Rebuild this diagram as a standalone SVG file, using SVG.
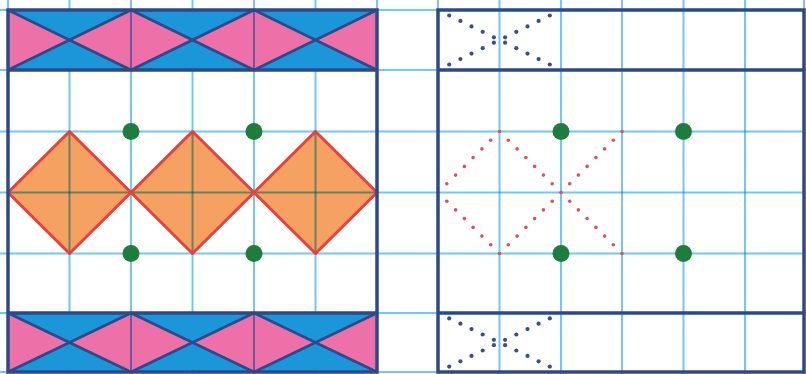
<svg xmlns="http://www.w3.org/2000/svg" width="806" height="374" viewBox="0 0 806 374">
<style>
.grid{stroke:#74c8ee;stroke-width:2;fill:none;mix-blend-mode:multiply}
.blue{fill:#1b97d9}
.pink{fill:#ee70a8}
.zig{fill:none;stroke:#2c4a8a;stroke-width:2.8;stroke-linejoin:round}
.frame{fill:none;stroke:#2c4a8a;stroke-width:3.5}
.dia{fill:#f4a162;stroke:none}
.diaS{fill:none;stroke:#e8403c;stroke-width:3;stroke-linejoin:round}
.green{fill:#1d7d3d}
.rd{fill:#e0505a}
.bd{fill:#3a4f86}
</style>
<defs>
<circle id="r" r="1.8" class="rd"/>
<circle id="b" r="2.1" class="bd"/>
</defs>
<rect width="806" height="374" fill="#fff"/>

<g id="left-panel-fills">
  <rect class="pink" x="8" y="10" width="369" height="60"/>
  <rect class="pink" x="8" y="313" width="369" height="59"/>
  <polygon class="dia" points="8,192.5 69.5,131.5 131,192.5 69.5,253.5"/>
  <polygon class="dia" points="131,192.5 192.5,131.5 254,192.5 192.5,253.5"/>
  <polygon class="dia" points="254,192.5 315.5,131.5 377,192.5 315.5,253.5"/>
</g>

<g id="grid">
  <path class="grid" d="M8,0V374M69.5,0V374M131,0V374M192.5,0V374M254,0V374M315.5,0V374M377,0V374M438,0V374M499.5,0V374M561,0V374M622,0V374M683.5,0V374M745,0V374M804,0V374"/>
  <path class="grid" d="M0,10H806M0,70H806M0,131.5H806M0,192.5H806M0,253.5H806M0,313H806M0,372H806"/>
</g>

<g id="blue-triangles">
  <polygon class="blue" points="8,10 131,10 69.5,40"/>
  <polygon class="blue" points="131,10 254,10 192.5,40"/>
  <polygon class="blue" points="254,10 377,10 315.5,40"/>
  <polygon class="blue" points="8,70 131,70 69.5,40"/>
  <polygon class="blue" points="131,70 254,70 192.5,40"/>
  <polygon class="blue" points="254,70 377,70 315.5,40"/>
  <polygon class="blue" points="8,313 131,313 69.5,342.5"/>
  <polygon class="blue" points="131,313 254,313 192.5,342.5"/>
  <polygon class="blue" points="254,313 377,313 315.5,342.5"/>
  <polygon class="blue" points="8,372 131,372 69.5,342.5"/>
  <polygon class="blue" points="131,372 254,372 192.5,342.5"/>
  <polygon class="blue" points="254,372 377,372 315.5,342.5"/>
</g>

<g id="left-panel-lines">
  <polyline class="zig" points="8,10 131,70 254,10 377,70"/>
  <polyline class="zig" points="8,70 131,10 254,70 377,10"/>
  <polyline class="zig" points="8,313 131,372 254,313 377,372"/>
  <polyline class="zig" points="8,372 131,313 254,372 377,313"/>
  <polygon class="diaS" points="8,192.5 69.5,131.5 131,192.5 69.5,253.5"/>
  <polygon class="diaS" points="131,192.5 192.5,131.5 254,192.5 192.5,253.5"/>
  <polygon class="diaS" points="254,192.5 315.5,131.5 377,192.5 315.5,253.5"/>
  <rect class="frame" x="8" y="10" width="369" height="362"/>
  <path class="frame" d="M8,70H377M8,313H377"/>
  <circle class="green" cx="131" cy="131.5" r="8.5"/>
  <circle class="green" cx="254" cy="131.5" r="8.5"/>
  <circle class="green" cx="131" cy="253.5" r="8.5"/>
  <circle class="green" cx="254" cy="253.5" r="8.5"/>
</g>

<g id="right-panel">
  <rect class="frame" x="438" y="10" width="366" height="362"/>
  <path class="frame" d="M438,70H804M438,313H804"/>
  <circle class="green" cx="561" cy="131.5" r="8.5"/>
  <circle class="green" cx="683.5" cy="131.5" r="8.5"/>
  <circle class="green" cx="561" cy="253.5" r="8.5"/>
  <circle class="green" cx="683.5" cy="253.5" r="8.5"/>
</g>

<g id="red-dots">
  <use href="#r" x="446.8" y="183.8"/><use href="#r" x="455.6" y="175.1"/><use href="#r" x="464.4" y="166.4"/><use href="#r" x="473.1" y="157.6"/><use href="#r" x="481.9" y="148.9"/><use href="#r" x="490.7" y="140.2"/>
  <use href="#r" x="446.8" y="201.2"/><use href="#r" x="455.6" y="209.9"/><use href="#r" x="464.4" y="218.6"/><use href="#r" x="473.1" y="227.4"/><use href="#r" x="481.9" y="236.1"/><use href="#r" x="490.7" y="244.8"/>
  <use href="#r" x="508.3" y="140.2"/><use href="#r" x="517.1" y="148.9"/><use href="#r" x="525.9" y="157.6"/><use href="#r" x="534.6" y="166.4"/><use href="#r" x="543.4" y="175.1"/><use href="#r" x="552.2" y="183.8"/>
  <use href="#r" x="508.3" y="244.8"/><use href="#r" x="517.1" y="236.1"/><use href="#r" x="525.9" y="227.4"/><use href="#r" x="534.6" y="218.6"/><use href="#r" x="543.4" y="209.9"/><use href="#r" x="552.2" y="201.2"/>
  <use href="#r" x="569.7" y="183.8"/><use href="#r" x="578.4" y="175.1"/><use href="#r" x="587.1" y="166.4"/><use href="#r" x="595.9" y="157.6"/><use href="#r" x="604.6" y="148.9"/><use href="#r" x="613.3" y="140.2"/>
  <use href="#r" x="569.7" y="201.2"/><use href="#r" x="578.4" y="209.9"/><use href="#r" x="587.1" y="218.6"/><use href="#r" x="595.9" y="227.4"/><use href="#r" x="604.6" y="236.1"/><use href="#r" x="613.3" y="244.8"/>
  <use href="#r" x="499.5" y="131.5"/><use href="#r" x="499.5" y="253.5"/><use href="#r" x="561" y="192.5"/><use href="#r" x="622" y="131.5"/><use href="#r" x="622" y="253.5"/>
</g>

<g id="blue-dots-top">
  <use href="#b" x="449.2" y="15.5"/><use href="#b" x="460.4" y="20.9"/><use href="#b" x="471.5" y="26.4"/><use href="#b" x="482.7" y="31.8"/><use href="#b" x="493.9" y="37.3"/><use href="#b" x="505.1" y="42.7"/><use href="#b" x="516.3" y="48.2"/><use href="#b" x="527.5" y="53.6"/><use href="#b" x="538.6" y="59.1"/><use href="#b" x="549.8" y="64.5"/>
  <use href="#b" x="449.2" y="64.5"/><use href="#b" x="460.4" y="59.1"/><use href="#b" x="471.5" y="53.6"/><use href="#b" x="482.7" y="48.2"/><use href="#b" x="493.9" y="42.7"/><use href="#b" x="505.1" y="37.3"/><use href="#b" x="516.3" y="31.8"/><use href="#b" x="527.5" y="26.4"/><use href="#b" x="538.6" y="20.9"/><use href="#b" x="549.8" y="15.5"/>
</g>
<g id="blue-dots-bottom">
  <use href="#b" x="449.2" y="318.4"/><use href="#b" x="460.4" y="323.7"/><use href="#b" x="471.5" y="329.1"/><use href="#b" x="482.7" y="334.5"/><use href="#b" x="493.9" y="339.8"/><use href="#b" x="505.1" y="345.2"/><use href="#b" x="516.3" y="350.5"/><use href="#b" x="527.5" y="355.9"/><use href="#b" x="538.6" y="361.3"/><use href="#b" x="549.8" y="366.6"/>
  <use href="#b" x="449.2" y="366.6"/><use href="#b" x="460.4" y="361.3"/><use href="#b" x="471.5" y="355.9"/><use href="#b" x="482.7" y="350.5"/><use href="#b" x="493.9" y="345.2"/><use href="#b" x="505.1" y="339.8"/><use href="#b" x="516.3" y="334.5"/><use href="#b" x="527.5" y="329.1"/><use href="#b" x="538.6" y="323.7"/><use href="#b" x="549.8" y="318.4"/>
</g>
</svg>
